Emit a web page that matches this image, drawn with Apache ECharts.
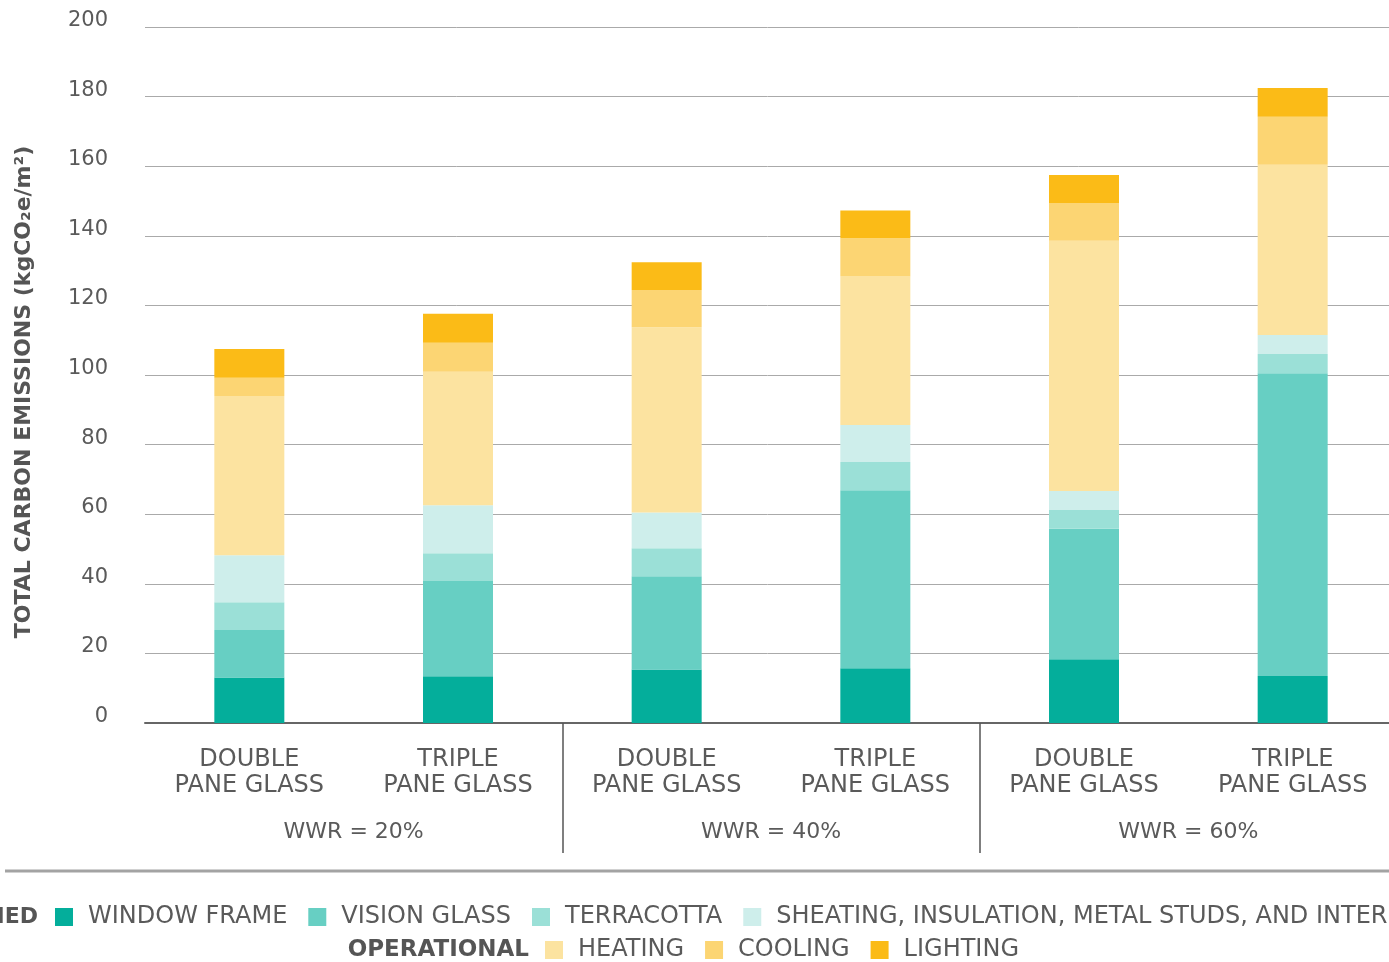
<!DOCTYPE html>
<html>
<head>
<meta charset="utf-8">
<script src="https://cdn.jsdelivr.net/npm/echarts@6/dist/echarts.min.js"></script>
<style>
html,body{margin:0;padding:0;background:#fff;}
#chart{width:1389px;height:962px;}
</style>
</head>
<body>
<div id="chart"></div>
<script>
const categories = ['DOUBLE\nPANE GLASS','TRIPLE\nPANE GLASS','DOUBLE\nPANE GLASS','TRIPLE\nPANE GLASS','DOUBLE\nPANE GLASS','TRIPLE\nPANE GLASS'];
const groups = ['WWR = 20%','WWR = 40%','WWR = 60%'];
const yTicks = [0,20,40,60,80,100,120,140,160,180,200];

const windowFrame = [13.1, 13.4, 15.4, 15.7, 18.3, 13.5];
const visionGlass = [13.6, 27.4, 26.8, 51.2, 37.5, 87.0];
const terracotta  = [8.0, 8.0, 8.0, 8.1, 5.4, 5.5];
const sheathing   = [13.5, 13.8, 10.3, 10.6, 5.5, 5.5];
const heating     = [45.8, 38.3, 53.2, 42.7, 71.9, 48.9];
const cooling     = [5.2, 8.4, 10.7, 11.0, 10.8, 13.8];
const lighting    = [8.3, 8.3, 8.0, 8.0, 8.1, 8.3];

const seriesNames = ['WINDOW FRAME','VISION GLASS','TERRACOTTA','SHEATING, INSULATION, METAL STUDS, AND INTERIOR','HEATING','COOLING','LIGHTING'];
const seriesData = [windowFrame, visionGlass, terracotta, sheathing, heating, cooling, lighting];
const colors = ['#04ae9b','#67cfc3','#9be0d7','#ceeeeb','#fce3a0','#fcd573','#fbbb17'];

const FONT = 'DejaVu Sans';
const chart = echarts.init(document.getElementById('chart'), null, {renderer:'canvas'});

const legendText = {fontFamily: FONT, fontSize: 24, color: '#5a5a5a', padding: [0,0,0,10]};

chart.setOption({
  animation: false,
  color: colors,
  grid: {left: 145, right: -8, top: 27, bottom: 239, containLabel: false, outerBoundsMode: 'none'},
  legend: [
    {data: seriesNames.slice(0,4), left: 50, top: 900, width: 3000, orient: 'horizontal', itemWidth: 18, itemHeight: 18, itemGap: 21, icon: 'rect', textStyle: legendText, selectedMode: false},
    {data: seriesNames.slice(4), left: 540, top: 933, width: 3000, orient: 'horizontal', itemWidth: 18, itemHeight: 18, itemGap: 21, icon: 'rect', textStyle: legendText, selectedMode: false}
  ],
  xAxis: [
    {
      type: 'category', data: categories, position: 'bottom',
      axisLine: {show: true, lineStyle: {color: '#666', width: 2}},
      axisTick: {show: false},
      axisLabel: {fontFamily: FONT, fontSize: 24, color: '#5a5a5a', lineHeight: 26, margin: 24, interval: 0}
    },
    {
      type: 'value', position: 'bottom', min: 0, max: 6,
      axisLine: {show: false},
      splitLine: {show: false},
      axisTick: {show: true, customValues: [2,4], length: 130, lineStyle: {color: '#555', width: 1.5}},
      axisLabel: {customValues: [1,3,5], formatter: v => groups[(v-1)/2], fontFamily: FONT, fontSize: 22, color: '#5a5a5a', margin: 98}
    }
  ],
  yAxis: {
    type: 'value', min: yTicks[0], max: yTicks[yTicks.length-1], interval: 20,
    axisLine: {show: false}, axisTick: {show: false},
    splitLine: {lineStyle: {color: '#aaaaaa', width: 1}},
    axisLabel: {fontFamily: FONT, fontSize: 21, color: '#5a5a5a', margin: 37, verticalAlign: 'bottom', lineHeight: 13}
  },
  series: seriesNames.map((n, i) => ({
    name: n, type: 'bar', stack: 'total', barWidth: 70, xAxisIndex: 0,
    data: seriesData[i], itemStyle: {color: colors[i]}
  })),
  graphic: [
    {type: 'text', x: 24, y: 392, rotation: Math.PI/2, style: {text: 'TOTAL CARBON EMISSIONS (kgCO₂e/m²)', font: 'bold 22px "DejaVu Sans"', fill: '#555', align: 'center', verticalAlign: 'middle'}},
    {type: 'text', x: 38, y: 917, style: {text: 'EMBODIED', font: 'bold 22px "DejaVu Sans"', fill: '#555', align: 'right', verticalAlign: 'middle'}},
    {type: 'text', x: 529, y: 950, style: {text: 'OPERATIONAL', font: 'bold 23px "DejaVu Sans"', fill: '#555', align: 'right', verticalAlign: 'middle'}},
    {type: 'line', shape: {x1: 5, y1: 871, x2: 1389, y2: 871}, style: {stroke: '#a3a3a3', lineWidth: 3}}
  ]
});
</script>
</body>
</html>
